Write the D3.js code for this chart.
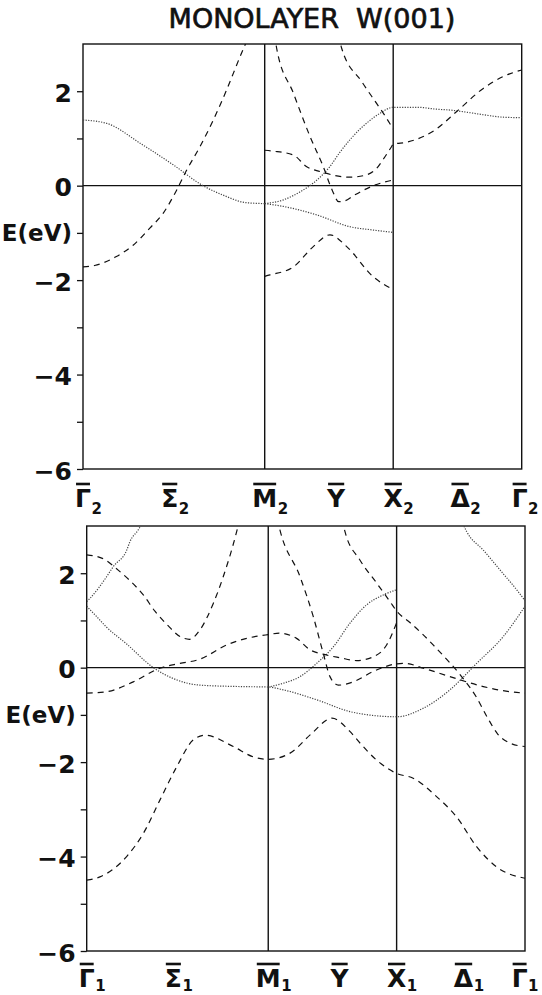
<!DOCTYPE html>
<html>
<head>
<meta charset="utf-8">
<script src="https://cdn.jsdelivr.net/npm/d3@7"></script>
<style>
  body { margin: 0; background: #fff; }
  svg { display: block; }
</style>
</head>
<body>
<svg id="chart" width="542" height="995"></svg>
<script>
// k-path positions of the symmetry points Γ, M, X, Γ (units of π/a along the path)
const symK = [0, 1.414, 2.414, 3.414];
const energyTicks = [-6, -5, -4, -3, -2, -1, 0, 1, 2];
const energyLabels = { "-6": "\u22126", "-4": "\u22124", "-2": "\u22122", "0": "0", "2": "2", "-1": "E(eV)" };
const pointNames = ["Γ", "Σ", "M", "Y", "X", "Δ", "Γ"];
const pointK = [0, 0.675, 1.414, 1.97, 2.414, 2.935, 3.414];
const topSubs = ["2", "2", "2", "", "2", "2", "2"];
const bottomSubs = ["1", "1", "1", "", "1", "1", "1"];

// ---- upper panel (representation 2) ----
const top_dot1 = [[0,1.39],[0.184,1.32],[0.444,0.90],[0.703,0.44],[0.934,0.0],[1.09,-0.20],[1.27,-0.36],[1.414,-0.38]];
const top_dot2 = [[1.414,-0.38],[1.56,-0.30],[1.69,-0.13],[1.79,0.05],[1.92,0.40],[2.0,0.71],[2.08,0.98],[2.156,1.20],[2.21,1.33],[2.31,1.53],[2.414,1.66],
                  [2.6,1.66],[2.75,1.62],[2.86,1.60],[3.0,1.55],[3.12,1.50],[3.27,1.45],[3.414,1.44]];
const top_dot3 = [[1.414,-0.38],[1.56,-0.44],[1.82,-0.62],[2.078,-0.87],[2.26,-0.94],[2.414,-0.99]];
const top_dash1 = [[0,-1.72],[0.09,-1.69],[0.26,-1.50],[0.39,-1.26],[0.52,-0.90],[0.625,-0.58],[0.716,-0.16],[0.807,0.33],[0.911,0.83],[1.014,1.39],[1.118,2.03],[1.222,2.73],[1.28,3.1]];
const top_dash2 = [[1.49,3.2],[1.507,2.91],[1.637,1.96],[1.767,1.04],[1.87,0.40],[1.94,-0.10],[1.99,-0.34],[2.04,-0.32],[2.10,-0.22],[2.18,-0.10],[2.26,0.0],[2.414,0.12]];
const top_dash3 = [[1.99,3.2],[2.013,2.91],[2.17,2.2],[2.29,1.72],[2.35,1.48],[2.414,1.2]];
const top_dash4 = [[1.414,0.75],[1.481,0.73],[1.637,0.65],[1.741,0.40],[1.844,0.30],[2.078,0.18],[2.208,0.23],[2.286,0.37],[2.337,0.56],[2.402,0.83],[2.414,0.88],
                   [2.519,0.92],[2.648,1.04],[2.74,1.18],[2.908,1.57],[3.115,2.06],[3.27,2.31],[3.414,2.45]];
const top_dash5 = [[1.414,-1.92],[1.455,-1.89],[1.637,-1.72],[1.792,-1.29],[1.922,-1.04],[2.052,-1.29],[2.259,-1.93],[2.414,-2.2]];

// ---- lower panel (representation 1) ----
const bot_dot1 = [[0,1.40],[0.026,1.47],[0.156,1.93],[0.207,2.14],[0.312,2.49],[0.337,2.67],[0.402,2.92],[0.43,3.05]];
const bot_dot2 = [[0,1.30],[0.078,1.08],[0.15,0.87],[0.312,0.50],[0.519,0.0],[0.674,-0.23],[0.882,-0.37],[1.194,-0.40],[1.414,-0.41],
                  [1.531,-0.47],[1.791,-0.68],[2.05,-0.93],[2.259,-1.02],[2.414,-1.04],
                  [2.621,-0.86],[2.829,-0.47],[3.037,0.09],[3.245,0.66],[3.414,1.30]];
const bot_dot3 = [[1.414,-0.41],[1.531,-0.33],[1.661,-0.19],[1.791,0.09],[1.921,0.44],[2.05,0.94],[2.18,1.33],[2.31,1.54],[2.414,1.65]];
const bot_dot4 = [[2.93,3.05],[2.96,2.88],[3.089,2.49],[3.219,2.07],[3.349,1.65],[3.414,1.42]];
const bot_dash1 = [[0,2.39],[0.117,2.32],[0.273,2.0],[0.338,1.84],[0.441,1.54],[0.533,1.19],[0.623,0.92],[0.727,0.66],[0.80,0.60],[0.882,0.80],[0.986,1.36],[1.064,1.93],[1.168,2.88],[1.19,3.12]];
const bot_dash2 = [[0,-0.54],[0.156,-0.51],[0.363,-0.30],[0.571,-0.01],[0.727,0.09],[0.882,0.18],[1.09,0.48],[1.246,0.62],[1.414,0.70],
                   [1.50,0.73],[1.635,0.62],[1.739,0.38],[1.85,0.28],[1.973,0.21],[2.103,0.15],[2.232,0.23],[2.336,0.48],[2.414,0.95]];
const bot_dash3 = [[1.485,3.15],[1.505,2.92],[1.661,1.93],[1.765,1.08],[1.843,0.30],[1.895,-0.19],[1.96,-0.37],[2.076,-0.30],[2.232,-0.08],[2.414,0.08],
                   [2.479,0.09],[2.621,-0.01],[2.829,-0.19],[3.089,-0.40],[3.297,-0.51],[3.414,-0.54]];
const bot_dash4 = [[1.99,3.15],[2.012,2.88],[2.128,2.28],[2.259,1.79],[2.362,1.40],[2.414,1.20],
                   [2.52,0.95],[2.62,0.70],[2.72,0.42],[2.83,0.10],[2.93,-0.22],[3.03,-0.60],[3.12,-1.05],[3.20,-1.40],[3.30,-1.60],[3.414,-1.67]];
const bot_dash5 = [[0,-4.50],[0.103,-4.43],[0.311,-4.0],[0.441,-3.51],[0.571,-2.80],[0.701,-2.10],[0.83,-1.53],[0.92,-1.43],[1.142,-1.67],[1.298,-1.89],[1.414,-1.94],
                   [1.584,-1.81],[1.75,-1.40],[1.91,-1.07],[2.05,-1.35],[2.13,-1.60],[2.259,-1.96],[2.414,-2.24],
                   [2.543,-2.34],[2.725,-2.73],[2.881,-3.16],[3.037,-3.79],[3.193,-4.22],[3.414,-4.46]];

const panels = [
  { id: "p2", box: { x0: 83, x1: 521.7, y0: 44, y1: 469 }, subs: topSubs, labGap: 38, subDy: 7,
    dotted: [top_dot1, top_dot2, top_dot3],
    dashed: [top_dash1, top_dash2, top_dash3, top_dash4, top_dash5] },
  { id: "p1", box: { x0: 86.7, x1: 525, y0: 526, y1: 951 }, subs: bottomSubs, labGap: 36, subDy: 4,
    dotted: [bot_dot1, bot_dot2, bot_dot3, bot_dot4],
    dashed: [bot_dash1, bot_dash2, bot_dash3, bot_dash4, bot_dash5] }
];

const W = 542;
const svg = d3.select("#chart");
const FONT = "'DejaVu Sans', sans-serif";

svg.append("text")
  .attr("x", 312).attr("y", 28)
  .attr("text-anchor", "middle")
  .attr("font-family", FONT).attr("font-size", 27)
  .attr("fill", "#111").attr("stroke", "#111").attr("stroke-width", 0.7)
  .style("white-space", "pre")
  .text("MONOLAYER  W(001)");

panels.forEach(p => {
  const b = p.box;
  const x = d3.scaleLinear().domain([symK[0], symK[3]]).range([b.x0, b.x1]);
  const y = d3.scaleLinear().domain([-6, 3]).range([b.y1, b.y0]);
  const g = svg.append("g");

  g.append("clipPath").attr("id", "clip-" + p.id)
    .append("rect").attr("x", b.x0).attr("y", b.y0).attr("width", b.x1 - b.x0).attr("height", b.y1 - b.y0);

  // energy axis with ticks at every eV, labels on the even ones
  const axis = d3.axisLeft(y)
    .tickValues(energyTicks)
    .tickSize(6)
    .tickPadding(5)
    .tickFormat(d => energyLabels[String(d)] || "");
  const ag = g.append("g").attr("transform", `translate(${b.x0},0)`).call(axis);
  ag.select(".domain").remove();
  ag.selectAll(".tick line").attr("stroke", "#111").attr("stroke-width", 1.3);
  ag.selectAll(".tick text")
    .attr("font-family", FONT)
    .attr("font-weight", "bold")
    .attr("font-size", d => d === -1 ? 23 : 25)
    .attr("fill", "#111")
    .attr("dy", d => d === -1 ? "0.33em" : "0.4em");

  // panel frame, symmetry-point verticals, Fermi level
  const frame = g.append("g").attr("stroke", "#111").attr("stroke-width", 1.4).attr("fill", "none");
  frame.append("rect").attr("x", b.x0).attr("y", b.y0).attr("width", b.x1 - b.x0).attr("height", b.y1 - b.y0);
  [symK[1], symK[2]].forEach(k => {
    frame.append("line").attr("x1", x(k)).attr("x2", x(k)).attr("y1", b.y0).attr("y2", b.y1);
  });
  frame.append("line").attr("x1", b.x0).attr("x2", b.x1).attr("y1", y(0)).attr("y2", y(0));

  const line = d3.line().x(d => x(d[0])).y(d => y(d[1])).curve(d3.curveMonotoneX);
  const bands = g.append("g").attr("clip-path", `url(#clip-${p.id})`).attr("fill", "none");
  bands.selectAll("path.dot").data(p.dotted).join("path")
    .attr("class", "dot")
    .attr("d", line)
    .attr("stroke", "#444").attr("stroke-width", 1.2)
    .attr("stroke-dasharray", "1.2,1.4");
  bands.selectAll("path.dash").data(p.dashed).join("path")
    .attr("class", "dash")
    .attr("d", line)
    .attr("stroke", "#111").attr("stroke-width", 1.2)
    .attr("stroke-dasharray", "6,5");

  // symmetry-point labels along the k path, with overbars
  const labBase = b.y1 + p.labGap;
  pointNames.forEach((name, i) => {
    const t = g.append("text")
      .attr("y", labBase)
      .attr("font-family", FONT).attr("font-weight", "bold")
      .attr("font-size", 25).attr("fill", "#111");
    t.append("tspan").text(name);
    if (p.subs[i]) {
      t.append("tspan").attr("font-size", 15).attr("dy", p.subDy).attr("dx", 0.5).text(p.subs[i]);
    }
    const w = t.node().getSubStringLength(0, 1);
    const total = t.node().getComputedTextLength() + 1;
    const cx = x(pointK[i]);
    // keep the whole label inside the page
    const left = Math.min(cx - w / 2, W - 3 - total);
    t.attr("x", left);
    g.append("line")
      .attr("x1", left + 1).attr("x2", left + w - 1)
      .attr("y1", labBase - 23).attr("y2", labBase - 23)
      .attr("stroke", "#111").attr("stroke-width", 2.6);
  });
});
</script>
</body>
</html>
